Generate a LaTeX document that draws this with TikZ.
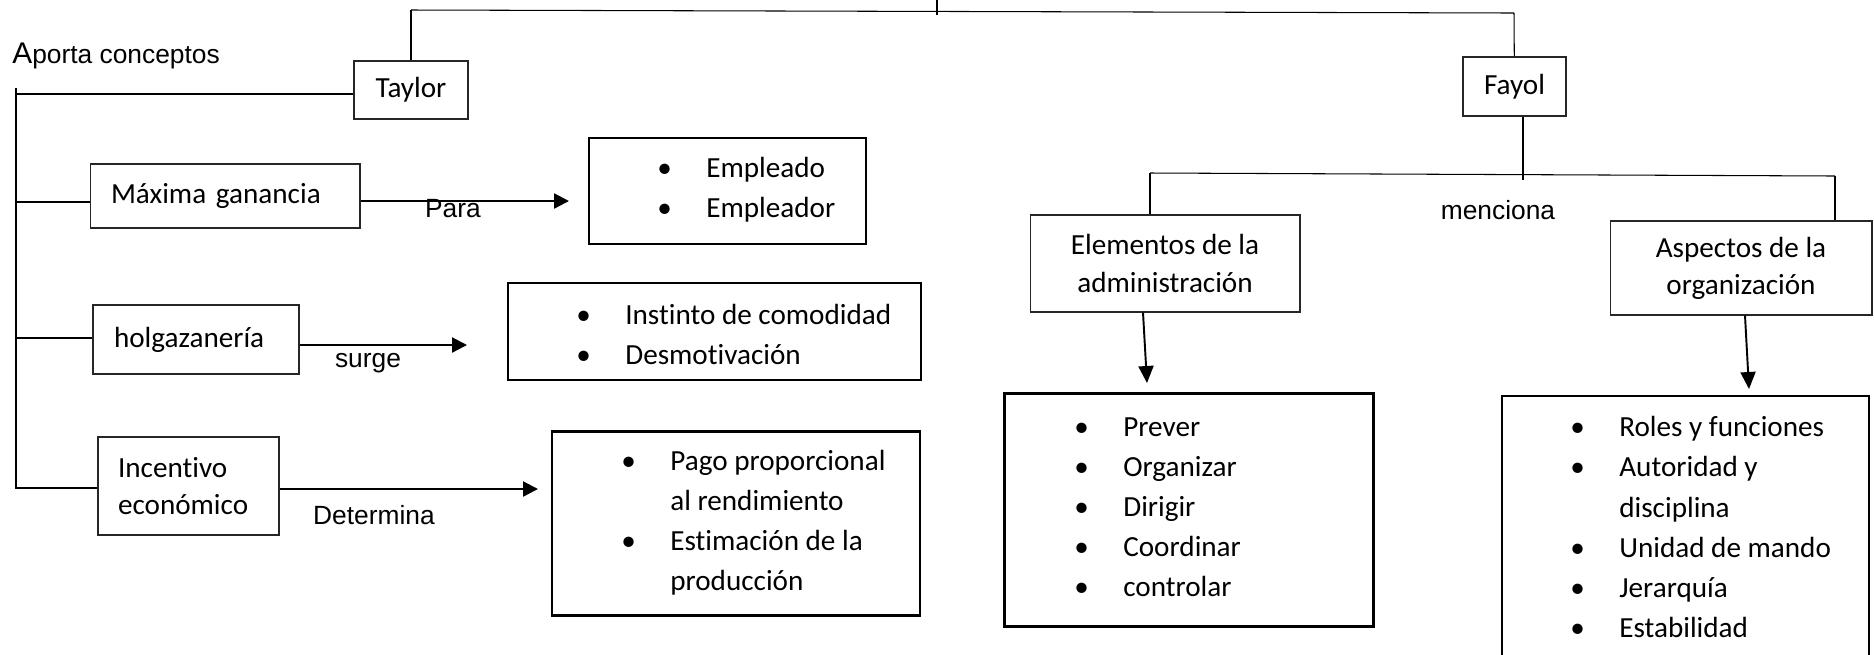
\documentclass[tikz,border=0pt]{standalone}
\usepackage{fontspec}
\setmainfont{Carlito}[Ligatures=NoCommon]
\newfontfamily\arialfont{Liberation Sans}
\usetikzlibrary{arrows.meta}

\newcommand{\boxfont}{\fontsize{16.6pt}{21.2pt}\selectfont}
\newcommand{\listfont}{\fontsize{16.6pt}{22.8pt}\selectfont}
\newcommand{\lblfont}{\arialfont\fontsize{15pt}{18pt}\selectfont}
\newcommand{\bul}{\makebox[0.98cm][l]{\textbullet}}
\newcommand{\cont}{\hspace*{0.98cm}}

\tikzset{
  box/.style={draw=black!85, line width=0.6pt, inner sep=0pt, font=\boxfont},
  leftbox/.style={align=left, inner xsep=0.42cm},
  listbox/.style={draw, line width=1.2pt, inner sep=0pt},
  listtext/.style={align=left, inner sep=0pt, font=\listfont, anchor=west},
  lbl/.style={font=\lblfont, inner sep=0pt},
  conn/.style={draw=black, line width=0.6pt},
  bigarrow/.style={line width=1.3pt, -{Triangle[length=0.3cm,width=0.3cm]}},
  downarrow/.style={line width=1.1pt, -{Triangle[length=0.34cm,width=0.3cm]}}
}

\begin{document}
\begin{tikzpicture}[x=0.02cm, y=-0.02cm]
\path[use as bounding box, clip] (0,0) rectangle (1874,654);

% Taylor side
\node[box, minimum width=2.28cm, minimum height=1.16cm] (taylor) at (411,90) {Taylor};
\node[lbl, anchor=west] (aporta) at (12,56) {{\fontsize{17pt}{18pt}\selectfont A}porta conceptos};
\node[box, leftbox, minimum width=5.4cm, minimum height=1.28cm, text width=4.56cm] (maxima) at (225,196) {Máxima ganancia};
\node[box, leftbox, minimum width=4.12cm, minimum height=1.38cm, text width=3.28cm] (holgaz) at (196,339.5) {holgazanería};
\node[box, leftbox, inner xsep=0.4cm, minimum width=3.62cm, minimum height=1.96cm, text width=2.82cm] (incent) at (188.5,486) {Incentivo\\económico};

\node[listbox, minimum width=5.54cm, minimum height=2.12cm] (empbox) at (727.5,191) {};
\node[listtext] (emptxt) at (657,190) {\bul Empleado\\\bul Empleador};
\node[listbox, minimum width=8.26cm, minimum height=1.94cm] (instbox) at (714.5,331.5) {};
\node[listtext] (insttxt) at (576,334) {\bul Instinto de comodidad\\\bul Desmotivación};
\node[listbox, minimum width=7.36cm, minimum height=3.68cm] (pagobox) at (736,523.5) {};
\node[listtext] (pagotxt) at (621,523) {\bul Pago proporcional\\\cont al rendimiento\\\bul Estimación de la\\\cont producción};

\node[lbl] (para) at (453,209) {Para};
\node[lbl] (surge) at (368,363) {surge};
\node[lbl] (determ) at (374,515) {Determina};

% Fayol side
\node[box, minimum width=2.06cm, minimum height=1.18cm] (fayol) at (1514.5,86.5) {Fayol};
\node[box, align=center, minimum width=5.4cm, minimum height=1.94cm] (elem) at (1165,263.5) {Elementos de la\\administración};
\node[box, align=center, minimum width=5.24cm, minimum height=1.88cm] (aspec) at (1741,268) {Aspectos de la\\organización};
\node[lbl] (menc) at (1498,210) {menciona};

\node[listbox, minimum width=7.38cm, minimum height=4.66cm] (elembox) at (1189,510) {};
\node[listtext] (elemtxt) at (1074,507) {\bul Prever\\\bul Organizar\\\bul Dirigir\\\bul Coordinar\\\bul controlar};
\node[listbox, minimum width=7.34cm, minimum height=5.68cm] (aspbox) at (1685.5,538) {};
\node[listtext] (asptxt) at (1570,527) {\bul Roles y funciones\\\bul Autoridad y\\\cont disciplina\\\bul Unidad de mando\\\bul Jerarquía\\\bul Estabilidad};

% top bar
\coordinate (root) at (937,0);
\coordinate (tmid) at (937,15);
\coordinate (tl) at (411,10);
\coordinate (tr) at (1514,13);
\draw[conn] (tl) -- (tr);
\draw[conn] (root) -- (tmid);
\draw[conn] (tl) -- (taylor);
\draw[conn] (tr) -- (fayol);

% left spine
\coordinate (sptop) at (16,88);
\coordinate (spbot) at (16,488);
\coordinate (s1) at (16,94);
\coordinate (s2) at (16,202);
\coordinate (s3) at (16,338);
\draw[conn] (sptop) -- (spbot) -- (spbot -| incent.west);
\draw[conn] (s1) -- (s1 -| taylor.west);
\draw[conn] (s2) -- (s2 -| maxima.west);
\draw[conn] (s3) -- (s3 -| holgaz.west);

\coordinate (a1) at (569,201);
\coordinate (a2) at (467,345);
\coordinate (a3) at (538,489);
\draw[bigarrow] (a1 -| maxima.east) -- (a1);
\draw[bigarrow] (a2 -| holgaz.east) -- (a2);
\draw[bigarrow] (a3 -| incent.east) -- (a3);

% Fayol branches
\coordinate (fb) at (1523,180);
\coordinate (hl) at (1150,173);
\coordinate (hr) at (1835,176);
\draw[conn] (fayol.south -| fb) -- (fb);
\draw[conn] (hl) -- (hr);
\draw[conn] (hl) -- (hl |- elem.north);
\draw[conn] (hr) -- (hr |- aspec.north);

\coordinate (d1) at (1147,383);
\coordinate (d2) at (1749,389);
\draw[downarrow] ([xshift=-0.44cm]elem.south) -- (d1);
\draw[downarrow] ([xshift=0.08cm]aspec.south) -- (d2);
\end{tikzpicture}
\end{document}
